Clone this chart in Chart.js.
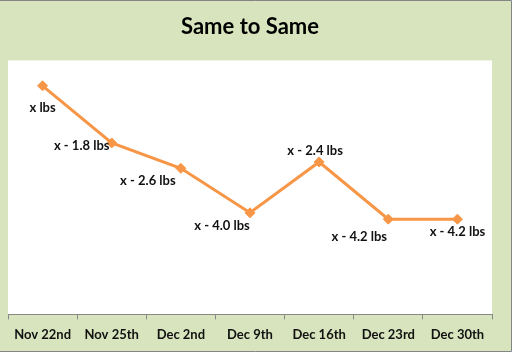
<!DOCTYPE html>
<html>
<head>
<meta charset="utf-8">
<script src="https://cdn.jsdelivr.net/npm/chart.js@4/dist/chart.umd.min.js"></script>
<style>
html,body{margin:0;padding:0;background:#fff;}
#wrap{width:516px;height:356px;position:relative;}
</style>
</head>
<body>
<div id="wrap"><canvas id="c" width="516" height="356"></canvas></div>
<script>
const categories = ["Nov 22nd","Nov 25th","Dec 2nd","Dec 9th","Dec 16th","Dec 23rd","Dec 30th"];
const changeValues = [0, -1.8, -2.6, -4.0, -2.4, -4.2, -4.2];
const pointLabels = ["x lbs","x - 1.8 lbs","x - 2.6 lbs","x - 4.0 lbs","x - 2.4 lbs","x - 4.2 lbs","x - 4.2 lbs"];
const labelOffsets = [[0,22],[-30,3],[-33,12],[-28,13],[-4,-11],[-29,18],[0,13]];

const FONT = "Lato, 'Open Sans', sans-serif";

const bgPlugin = {
  id: 'bg',
  beforeDraw(chart) {
    const ctx = chart.ctx;
    const a = chart.chartArea;
    ctx.save();
    ctx.fillStyle = '#ffffff';
    ctx.fillRect(0, 0, chart.width, chart.height);
    ctx.fillStyle = '#d7e4bd';
    ctx.fillRect(0, 0, 511, 351);
    ctx.strokeStyle = '#858585';
    ctx.lineWidth = 1;
    ctx.beginPath();
    ctx.moveTo(0, 0.5); ctx.lineTo(511.5, 0.5); ctx.lineTo(511.5, 351.5); ctx.lineTo(0, 351.5);
    ctx.stroke();
    ctx.fillStyle = '#ffffff';
    ctx.fillRect(a.left, a.top, a.right - a.left, a.bottom - a.top);
    ctx.restore();
  }
};

const labelPlugin = {
  id: 'ptlabels',
  afterDatasetsDraw(chart) {
    const ctx = chart.ctx;
    const meta = chart.getDatasetMeta(0);
    ctx.save();
    ctx.font = "bold 13px " + FONT;
    ctx.fillStyle = '#111111';
    ctx.textAlign = 'center';
    ctx.textBaseline = 'middle';
    meta.data.forEach((pt, i) => {
      const o = labelOffsets[i];
      ctx.fillText(pointLabels[i], pt.x + o[0], pt.y + o[1]);
    });
    ctx.restore();
  }
};

new Chart(document.getElementById('c'), {
  type: 'line',
  data: {
    labels: categories,
    datasets: [{
      data: changeValues,
      borderColor: '#f79646',
      backgroundColor: '#f79646',
      borderWidth: 3,
      pointStyle: 'rectRot',
      pointRadius: 5,
      pointBorderWidth: 1,
      tension: 0
    }]
  },
  options: {
    responsive: false,
    animation: false,
    layout: { padding: { left: 8, right: 24, top: 0, bottom: 5 } },
    plugins: {
      legend: { display: false },
      tooltip: { enabled: false },
      title: {
        display: true,
        text: 'Same to Same',
        color: '#000000',
        font: { family: FONT, size: 22, weight: 'bold' },
        padding: { top: 14, bottom: 20 }
      }
    },
    scales: {
      y: { display: false, min: -7.2, max: 0.8 },
      x: {
        offset: true,
        grid: { offset: true, drawOnChartArea: false, tickLength: 5, color: '#888888' },
        border: { color: '#888888', width: 1 },
        ticks: { color: '#111111', padding: 8, font: { family: FONT, size: 13, weight: 'bold' }, maxRotation: 0 }
      }
    }
  },
  plugins: [bgPlugin, labelPlugin]
});
</script>
</body>
</html>
